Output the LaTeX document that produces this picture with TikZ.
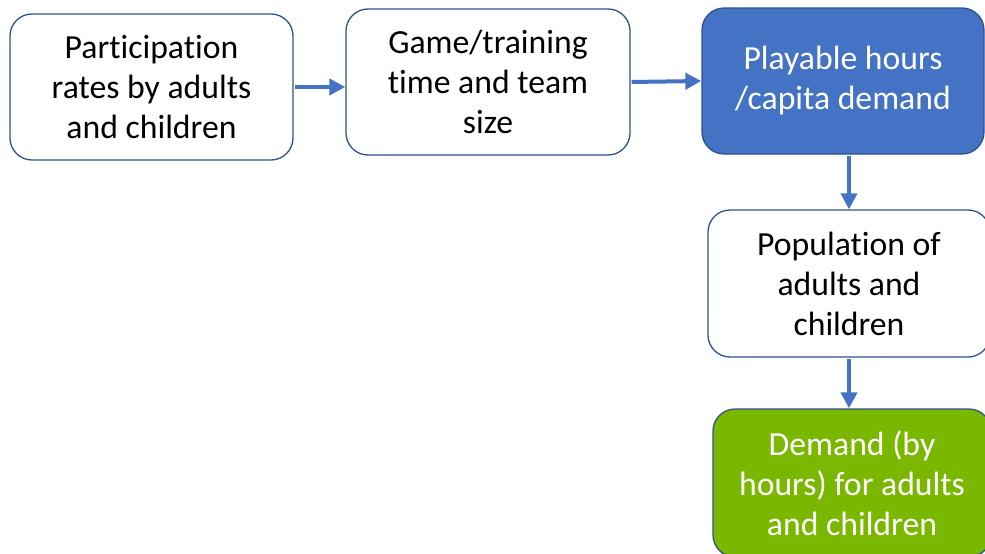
\documentclass[tikz,border=0pt]{standalone}
\usepackage{fontspec}
\setmainfont{Carlito}[Ligatures={NoCommon}]
\usetikzlibrary{arrows.meta}
\definecolor{bblue}{HTML}{4472C4}
\definecolor{bdark}{HTML}{2F528F}
\definecolor{bgreen}{RGB}{122,184,0}
\begin{document}
\begin{tikzpicture}[x=1pt,y=-1pt,
  box/.style={draw=bdark, line width=1.3pt, rounded corners=22pt, align=center,
    font=\fontsize{33.7}{40}\selectfont, inner sep=0pt, fill=white, text=black},
  bluebox/.style={box, fill=bblue, text=white},
  greenbox/.style={box, fill=bgreen, text=white},
  arr/.style={draw=bblue, line width=4pt, -{Triangle[length=16pt,width=16pt]}, shorten <=1pt}]
\useasboundingbox (0,0) rectangle (985,554);
\clip (0,0) rectangle (985,554);
\node[box, minimum width=283pt, minimum height=146pt] (b1) at (151.5,87) {Participation\\rates by adults\\and children};
\node[box, minimum width=284pt, minimum height=146pt] (b2) at (488,82) {Game/training\\time and team\\size};
\node[bluebox, minimum width=282pt, minimum height=146pt] (b3) at (843,81) {Playable hours\\/capita demand};
\node[box, minimum width=282pt, minimum height=147pt] (b4) at (849,283.5) {Population of\\adults and\\children};
\node[greenbox, minimum width=278pt, minimum height=148pt] (b5) at (852,483) {Demand (by\\hours) for adults\\and children};
\draw[arr] (b1.east) -- (b1.east -| b2.west);
\draw[arr] (b2.east) -- (b3.west);
\draw[arr] (b4.north |- b3.south) -- (b4.north);
\draw[arr] (b4.south) -- (b4.south |- b5.north);
\end{tikzpicture}
\end{document}
